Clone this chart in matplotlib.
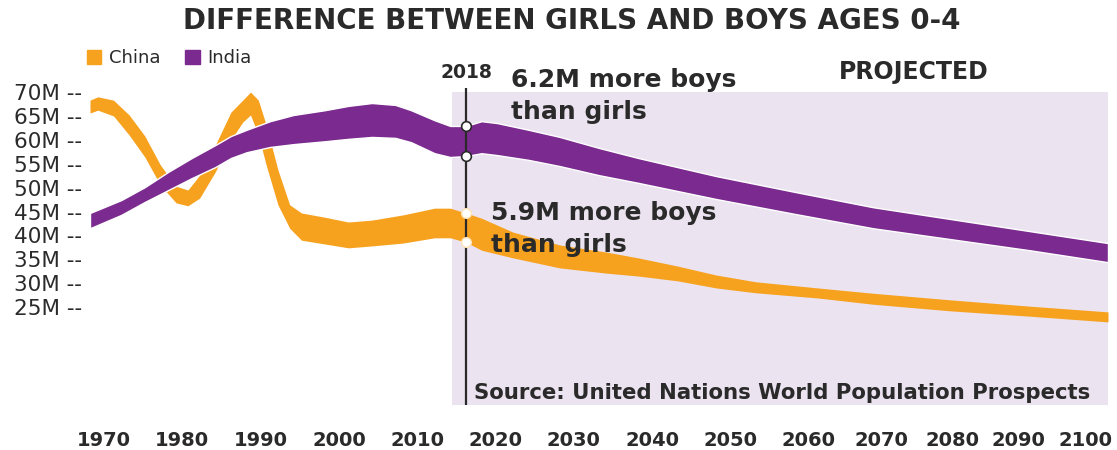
import matplotlib.pyplot as plt
from matplotlib.patches import Patch
from matplotlib.transforms import ScaledTranslation

# band edges, millions (upper = boys count side, lower = girls side)
cn_years = [1970, 1971, 1973, 1975, 1977, 1979, 1981, 1982.5, 1984, 1986, 1988, 1989.5,
            1990.5, 1991.5, 1992.5, 1994, 1995.5, 1997, 2000, 2003, 2006, 2010, 2014,
            2016, 2018, 2020, 2024, 2030, 2036, 2040, 2045, 2050, 2055, 2063, 2070,
            2080, 2090, 2100]
cn_hi = [68.3, 69.0, 68.3, 65.2, 60.8, 54.7, 50.3, 49.5, 52.6, 58.9, 65.8, 68.3,
         70.0, 68.3, 63.1, 53.7, 46.4, 44.7, 43.8, 42.8, 43.2, 44.3, 45.7,
         45.7, 44.7, 43.6, 40.7, 38.0, 36.5, 35.3, 33.6, 31.7, 30.3, 29.0, 27.9,
         26.5, 25.2, 24.0]
cn_lo = [65.6, 66.2, 65.0, 61.0, 56.4, 50.5, 46.8, 46.2, 47.8, 53.3, 60.0, 63.7,
         65.2, 61.0, 54.7, 46.4, 41.5, 39.0, 38.2, 37.4, 37.8, 38.4, 39.5,
         39.5, 38.6, 36.9, 35.3, 33.2, 32.1, 31.5, 30.5, 29.0, 28.0, 26.9, 25.6,
         24.2, 23.1, 21.9]

in_years = [1970, 1974, 1977, 1980, 1983, 1986, 1988, 1990, 1993, 1996, 2000, 2003,
            2006, 2009, 2011, 2014, 2016, 2018, 2020, 2022, 2026, 2030, 2035, 2040,
            2045, 2050, 2060, 2070, 2080, 2090, 2100]
in_hi = [44.7, 47.4, 50.1, 53.3, 56.2, 58.9, 60.8, 62.1, 63.9, 65.2, 66.2, 67.1,
         67.7, 67.3, 66.2, 64.1, 62.9, 62.9, 63.9, 63.5, 62.1, 60.6, 58.3, 56.2,
         54.3, 52.4, 49.1, 45.9, 43.4, 40.9, 38.4]
in_lo = [41.5, 44.3, 47.0, 49.5, 52.0, 54.3, 56.2, 57.4, 58.5, 59.1, 59.7, 60.2,
         60.6, 60.4, 59.5, 57.2, 56.4, 56.6, 57.2, 56.8, 55.8, 54.5, 52.6, 51.0,
         49.3, 47.6, 44.5, 41.5, 39.2, 36.9, 34.4]

x_ticks = list(range(1970, 2101, 10))
y_ticks = [70, 65, 60, 55, 50, 45, 40, 35, 30, 25]
mark_year = 2018
proj_start = 2016.2

ORANGE = '#f7a21e'
PURPLE = '#7b2a8f'
LAVENDER = '#ebe3f0'
INK = '#2a2a2a'

W, H = 1117, 450
fig = plt.figure(figsize=(W / 100, H / 100), dpi=100)
ylo, yhi = 4.52, 70.84
ax = fig.add_axes([90 / W, 45 / H, 1018 / W, 317 / H])
ax.set_xlim(1970, 2100)
ax.set_ylim(ylo, yhi)
for s in ax.spines.values():
    s.set_visible(False)


def px(x, y):
    return x / W, 1 - y / H


ax.axvspan(proj_start, 2100, ymax=(70 - ylo) / (yhi - ylo), color=LAVENDER, lw=0, zorder=0)

ax.fill_between(cn_years, cn_lo, cn_hi, color=ORANGE, lw=0, zorder=2)
ax.fill_between(in_years, in_lo, in_hi, facecolor=PURPLE, edgecolor='white', lw=1.0, zorder=3)

ax.axvline(mark_year, color=INK, lw=1.6, zorder=4)
i = in_years.index(mark_year)
c = cn_years.index(mark_year)
ax.plot([mark_year] * 2, [in_hi[i], in_lo[i]], 'o', ms=7, mfc='white', mec=INK, mew=1.2, zorder=5)
ax.plot([mark_year] * 2, [cn_hi[c], cn_lo[c]], 'o', ms=7, mfc='white', mec='#fde3b5', mew=1.0, zorder=5)

ax.set_yticks(y_ticks)
ax.set_yticklabels([f'{v}M --' for v in y_ticks], fontsize=15.5, color=INK)
ax.tick_params(axis='y', length=0, pad=6)
ax.set_xticks(x_ticks)
ax.set_xticklabels([str(v) for v in x_ticks], fontsize=14, fontweight='bold', color=INK)
ax.tick_params(axis='x', length=0, pad=19)
nudge = [14, 14, 14, 14, 14, 14, 14, 14, 14, 14, 8, 1, -11, -23]
for lab, dx in zip(ax.get_xticklabels(), nudge):
    lab.set_transform(lab.get_transform() + ScaledTranslation(dx / 100, 0, fig.dpi_scale_trans))

fig.text(*px(572, 21), 'DIFFERENCE BETWEEN GIRLS AND BOYS AGES 0-4', ha='center', va='center',
         fontsize=20, fontweight='bold', color=INK)
fig.text(*px(466, 73), str(mark_year), ha='center', va='center', fontsize=13.5,
         fontweight='bold', color=INK)
fig.text(*px(914, 72), 'PROJECTED', ha='center', va='center', fontsize=17,
         fontweight='bold', color=INK)
fig.text(*px(511, 68), '6.2M more boys\nthan girls', ha='left', va='top', fontsize=18,
         fontweight='bold', color=INK, linespacing=1.4)
fig.text(*px(491, 201), '5.9M more boys\nthan girls', ha='left', va='top', fontsize=18,
         fontweight='bold', color=INK, linespacing=1.4)
fig.text(*px(474, 393), 'Source: United Nations World Population Prospects', ha='left',
         va='center', fontsize=15.3, fontweight='bold', color=INK)

handles = [Patch(color=ORANGE), Patch(color=PURPLE)]
fig.legend(handles, ['China', 'India'], loc='upper left', bbox_to_anchor=px(78, 40), ncol=2,
           frameon=False, fontsize=13, handlelength=0.8, handleheight=0.8, handletextpad=0.4,
           columnspacing=1.4, borderpad=0, labelcolor=INK)

fig.savefig('out.png', dpi=100)
